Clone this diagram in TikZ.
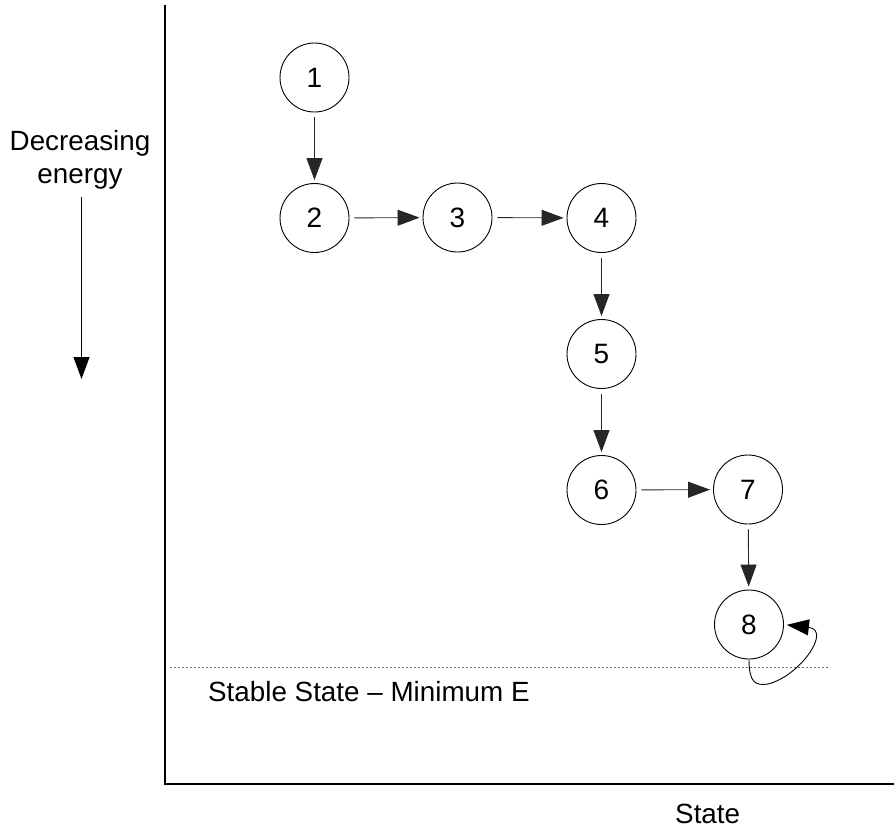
\documentclass[tikz,border=0pt]{standalone}
\usepackage{fontspec}
\setmainfont{Liberation Sans}
\usetikzlibrary{arrows.meta}
\begin{document}
\begin{tikzpicture}[x=1pt,y=-1pt,
  state/.style={circle,draw,line width=0.9pt,minimum size=69pt,inner sep=0pt,font=\fontsize{28}{32}\selectfont},
  tip/.style={-{Triangle[length=22pt,width=16pt]}},
  arr/.style={line width=0.9pt,draw=black!85,tip,shorten <=5pt,shorten >=3pt},
  axis/.style={line width=1.6pt},
  lbl/.style={font=\fontsize{27.8}{33}\selectfont,inner sep=0pt}]
\useasboundingbox (0,0) rectangle (894,831);
% axes
\coordinate (top) at (165,5);
\coordinate (org) at (165,784);
\coordinate (right) at (894,784);
\draw[axis] (top) -- (org) -- (right);
% stable line
\coordinate (d1) at (170,667);
\coordinate (d2) at (830,667);
\draw[line width=1pt,black!55,dash pattern=on 2pt off 2pt] (d1) -- (d2);
% states
\node[state] (1) at (314.5,77.5) {1};
\node[state] (2) at (314.5,218) {2};
\node[state] (3) at (457.5,217.5) {3};
\node[state] (4) at (601.5,218) {4};
\node[state] (5) at (601.5,354) {5};
\node[state] (6) at (601.5,490) {6};
\node[state] (7) at (748,489.5) {7};
\node[state] (8) at (749,624.5) {8};
\draw[arr] (1) -- (2);
\draw[arr] (2) -- (3);
\draw[arr] (3) -- (4);
\draw[arr] (4) -- (5);
\draw[arr] (5) -- (6);
\draw[arr] (6) -- (7);
\draw[arr] (7) -- (8);
\coordinate (lb) at (768,684);
\draw[line width=0.9pt,tip,shorten >=3pt] (8.south) .. controls (749,682) and (755,686) .. (lb) .. controls (800,676) and (832,630) .. (8.east);
% labels
\node[lbl,align=center] (dec) at (80,160) {Decreasing\\energy};
\coordinate (ea) at (81.5,197);
\coordinate (eb) at (81.5,379);
\draw[line width=0.9pt,tip] (ea) -- (eb);
\node[lbl,anchor=base west] (stable) at (208,701) {Stable State – Minimum E};
\node[lbl,anchor=base west] (st) at (675,823) {State};
\end{tikzpicture}
\end{document}
